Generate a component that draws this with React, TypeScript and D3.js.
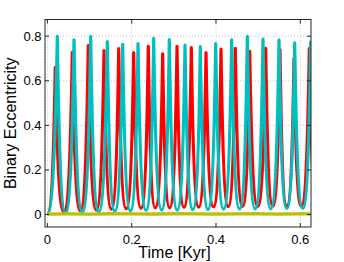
// @ts-nocheck
import * as d3 from 'd3';
import React, { useEffect, useRef } from 'react';

// Binary eccentricity vs time, two runs (extrema)
const cyanPeakT = [0.0235, 0.0631, 0.1027, 0.1421, 0.1786, 0.215, 0.2522, 0.2892, 0.3265, 0.3628, 0.3993, 0.4372, 0.4743, 0.5115, 0.5495, 0.5867, 0.6247];
const cyanPeakE = [0.799, 0.784, 0.799, 0.776, 0.763, 0.767, 0.79, 0.785, 0.76, 0.753, 0.767, 0.784, 0.799, 0.787, 0.784, 0.77, 0.775];
const cyanMinT = [0, 0.043, 0.083, 0.122, 0.16, 0.197, 0.234, 0.271, 0.308, 0.345, 0.381, 0.418, 0.456, 0.493, 0.53, 0.568, 0.606, 0.644];
const cyanMinE = [0.004, 0.008, 0.01, 0.012, 0.015, 0.016, 0.018, 0.02, 0.02, 0.022, 0.022, 0.024, 0.025, 0.025, 0.026, 0.027, 0.028, 0.028];

const redPeakT = [0.0187, 0.0591, 0.097, 0.1343, 0.1692, 0.2047, 0.2394, 0.2735, 0.3075, 0.3414, 0.3763, 0.4119, 0.4458, 0.48, 0.5179, 0.5518, 0.5851, 0.6215];
const redPeakE = [0.66, 0.728, 0.758, 0.736, 0.744, 0.726, 0.754, 0.721, 0.755, 0.749, 0.726, 0.742, 0.746, 0.732, 0.746, 0.74, 0.7, 0.746];
const redMinT = [0, 0.039, 0.078, 0.116, 0.152, 0.187, 0.222, 0.256, 0.29, 0.324, 0.359, 0.394, 0.429, 0.463, 0.499, 0.535, 0.568, 0.602, 0.64];
const redMinE = [0.004, 0.012, 0.017, 0.02, 0.024, 0.026, 0.028, 0.03, 0.03, 0.032, 0.033, 0.034, 0.035, 0.036, 0.036, 0.037, 0.038, 0.038, 0.04];

// the nearly circular runs hugging zero
const lowT = [0, 0.05, 0.1, 0.15, 0.2, 0.25, 0.3, 0.35, 0.4, 0.45, 0.5, 0.55, 0.6, 0.625];
const magentaE = [0.003, 0.006, 0.001, 0.007, 0.002, 0.005, 0.008, 0.001, 0.006, 0.003, 0.007, 0.002, 0.005, 0.004];
const greenE = [0.002, 0.004, 0.003, 0.005, 0.002, 0.004, 0.003, 0.005, 0.003, 0.004, 0.002, 0.005, 0.003, 0.004];
const blueE = [0.001, 0.003, 0.002, 0.004, 0.001, 0.003, 0.002, 0.004, 0.002, 0.003, 0.001, 0.004, 0.002, 0.003];
const yellowE = [0.002, 0.003, 0.002, 0.003, 0.003, 0.002, 0.003, 0.003, 0.002, 0.003, 0.003, 0.002, 0.003, 0.003];

const xTicks = [0, 0.2, 0.4, 0.6];
const yTicks = [0, 0.2, 0.4, 0.6, 0.8];

const width = 344;
const height = 262;

function mergeExtrema(minT, minE, peakT, peakE) {
  const pts = [];
  minT.forEach((t, i) => pts.push({ t, e: minE[i], peak: false }));
  peakT.forEach((t, i) => pts.push({ t, e: peakE[i], peak: true }));
  return pts.sort((a, b) => a.t - b.t);
}

// flat-bottomed valleys, sharp spikes
function spikePath(pts, x, y) {
  const p = d3.path();
  pts.forEach((d, i) => {
    const px = x(d.t);
    const py = y(d.e);
    if (i === 0) {
      p.moveTo(px, py);
      return;
    }
    const x0 = x(pts[i - 1].t);
    const y0 = y(pts[i - 1].e);
    const dx = px - x0;
    const dy = py - y0;
    if (d.peak) {
      p.bezierCurveTo(x0 + 0.5 * dx, y0, px - 0.22 * dx, y0 + 0.35 * dy, px, py);
    } else {
      p.bezierCurveTo(x0 + 0.22 * dx, y0 + 0.65 * dy, px - 0.5 * dx, py, px, py);
    }
  });
  return p.toString();
}

export default function App() {
  const svgRef = useRef(null);

  useEffect(() => {
    const svg = d3.select(svgRef.current);
    svg.selectAll('*').remove();

    const margin = { top: 19.5, right: 33, bottom: 35, left: 45 };
    const innerWidth = width - margin.left - margin.right;
    const innerHeight = height - margin.top - margin.bottom;

    const x = d3.scaleLinear().domain([-0.0057, 0.6254]).range([0, innerWidth]);
    const y = d3.scaleLinear().domain([-0.056, 0.875]).range([innerHeight, 0]);

    const g = svg.append('g').attr('transform', `translate(${margin.left},${margin.top})`);

    g.append('rect').attr('width', innerWidth).attr('height', innerHeight).attr('fill', '#fff');

    svg
      .append('defs')
      .append('clipPath')
      .attr('id', 'plot-clip')
      .append('rect')
      .attr('width', innerWidth)
      .attr('height', innerHeight);

    // dotted grid
    g.selectAll('.gx')
      .data(xTicks)
      .enter()
      .append('line')
      .attr('x1', d => x(d))
      .attr('x2', d => x(d))
      .attr('y1', 0)
      .attr('y2', innerHeight)
      .attr('stroke', '#b8b8b8')
      .attr('stroke-width', 0.8)
      .attr('stroke-dasharray', '1,2');

    g.selectAll('.gy')
      .data(yTicks)
      .enter()
      .append('line')
      .attr('x1', 0)
      .attr('x2', innerWidth)
      .attr('y1', d => y(d))
      .attr('y2', d => y(d))
      .attr('stroke', '#b8b8b8')
      .attr('stroke-width', 0.8)
      .attr('stroke-dasharray', '1,2');

    const plot = g.append('g').attr('clip-path', 'url(#plot-clip)');

    plot
      .append('path')
      .attr('d', spikePath(mergeExtrema(redMinT, redMinE, redPeakT, redPeakE), x, y))
      .attr('fill', 'none')
      .attr('stroke', '#ff0000')
      .attr('stroke-width', 3.2)
      .attr('stroke-linejoin', 'round');

    plot
      .append('path')
      .attr('d', spikePath(mergeExtrema(cyanMinT, cyanMinE, cyanPeakT, cyanPeakE), x, y))
      .attr('fill', 'none')
      .attr('stroke', '#00bfbf')
      .attr('stroke-width', 3.2)
      .attr('stroke-linejoin', 'round');

    const lowLine = d3
      .line()
      .x((d, i) => x(lowT[i]))
      .y(d => y(d));

    const lows = [
      { values: magentaE, color: '#bf00bf', w: 1.5, dash: '2,3' },
      { values: greenE, color: '#008000', w: 1.5, dash: '3,4' },
      { values: blueE, color: '#4040ff', w: 1.2, dash: '2,5' },
      { values: yellowE, color: '#bfbf00', w: 3.2, dash: null },
    ];
    lows.forEach(s => {
      plot
        .append('path')
        .datum(s.values)
        .attr('d', lowLine)
        .attr('fill', 'none')
        .attr('stroke', s.color)
        .attr('stroke-width', s.w)
        .attr('stroke-dasharray', s.dash);
    });

    // box and inward ticks
    g.append('rect')
      .attr('width', innerWidth)
      .attr('height', innerHeight)
      .attr('fill', 'none')
      .attr('stroke', '#262626')
      .attr('stroke-width', 1);

    const tl = 4;
    xTicks.forEach(t => {
      g.append('line').attr('x1', x(t)).attr('x2', x(t)).attr('y1', innerHeight).attr('y2', innerHeight - tl).attr('stroke', '#262626');
      g.append('line').attr('x1', x(t)).attr('x2', x(t)).attr('y1', 0).attr('y2', tl).attr('stroke', '#262626');
    });
    yTicks.forEach(t => {
      g.append('line').attr('x1', 0).attr('x2', tl).attr('y1', y(t)).attr('y2', y(t)).attr('stroke', '#262626');
      g.append('line').attr('x1', innerWidth).attr('x2', innerWidth - tl).attr('y1', y(t)).attr('y2', y(t)).attr('stroke', '#262626');
    });

    const font = '"Liberation Sans", Arial, Helvetica, sans-serif';

    g.selectAll('.xl')
      .data(xTicks)
      .enter()
      .append('text')
      .attr('x', d => x(d))
      .attr('y', innerHeight + 16.5)
      .attr('text-anchor', 'middle')
      .style('font-family', font)
      .style('font-size', '13px')
      .style('fill', '#000')
      .text(d => String(d));

    g.selectAll('.yl')
      .data(yTicks)
      .enter()
      .append('text')
      .attr('x', -3.5)
      .attr('y', d => y(d))
      .attr('dy', '0.35em')
      .attr('text-anchor', 'end')
      .style('font-family', font)
      .style('font-size', '13px')
      .style('fill', '#000')
      .text(d => String(d));

    svg
      .append('text')
      .attr('x', 174.5)
      .attr('y', 257.5)
      .attr('text-anchor', 'middle')
      .style('font-family', font)
      .style('font-size', '16px')
      .style('fill', '#000')
      .text('Time [Kyr]');

    svg
      .append('text')
      .attr('transform', `translate(16,${margin.top + innerHeight / 2}) rotate(-90)`)
      .attr('text-anchor', 'middle')
      .style('font-family', font)
      .style('font-size', '16px')
      .style('fill', '#000')
      .text('Binary Eccentricity');
  }, []);

  return (
    <svg
      ref={svgRef}
      width={width}
      height={height}
      style={{ position: 'absolute', left: 0, top: 0, background: '#fff', display: 'block' }}
    />
  );
}
